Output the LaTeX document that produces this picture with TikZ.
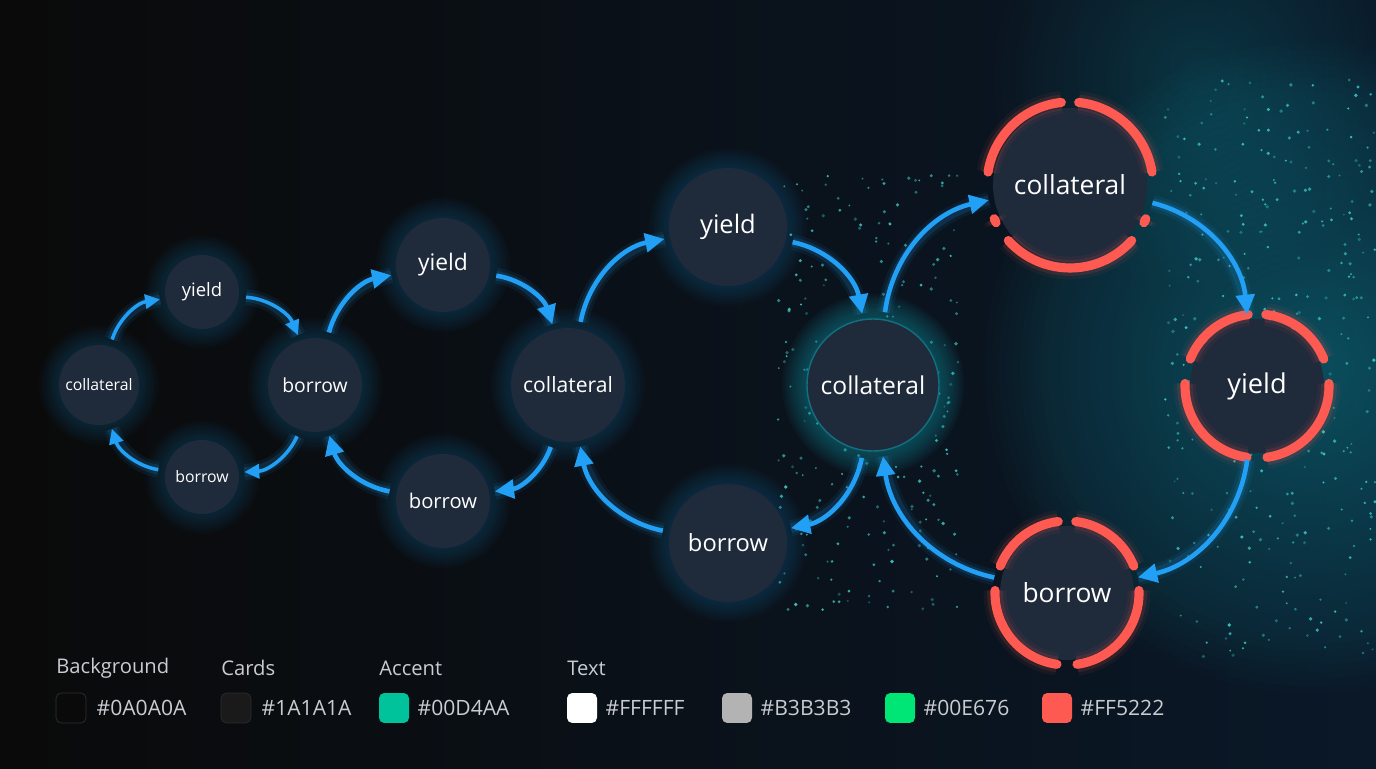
\documentclass[tikz,border=0pt]{standalone}
\usepackage{fontspec}
\setmainfont{Open Sans}
\usetikzlibrary{arrows.meta,positioning,backgrounds}

\definecolor{bgleft}{HTML}{0A0A0A}
\definecolor{bgright}{HTML}{0A1828}
\definecolor{cardfill}{HTML}{1F2A3B}
\definecolor{flowblue}{HTML}{22A0F5}
\definecolor{haze}{HTML}{0C8C9C}
\definecolor{spark}{HTML}{3CCFC8}
\definecolor{ringred}{HTML}{FF5A52}
\definecolor{legendtxt}{HTML}{C9CCD1}
\definecolor{swbg}{HTML}{0A0A0A}
\definecolor{swcard}{HTML}{1A1A1A}
\definecolor{swaccent}{HTML}{00D4AA}
\definecolor{swwhite}{HTML}{FFFFFF}
\definecolor{swgray}{HTML}{B3B3B3}
\definecolor{swgreen}{HTML}{00E676}
\definecolor{swred}{HTML}{FF5A52}

\tikzset{
  card/.style={circle, fill=cardfill, text=white, inner sep=0pt},
  flow/.style={draw=flowblue, line width=2.6pt, -{Triangle[length=11pt,width=10.5pt]},
    shorten <=4pt, shorten >=3pt,
    preaction={draw=flowblue, line width=9pt, opacity=.08, -},
    preaction={draw=flowblue, line width=5.5pt, opacity=.14, -}},
  flowsmall/.style={flow, line width=2pt, -{Triangle[length=8.5pt,width=8pt]}},
  ring/.style={draw=ringred, line width=5.2pt, line cap=round,
    preaction={draw=ringred, line width=13pt, opacity=.06},
    preaction={draw=ringred, line width=9pt, opacity=.12}},
  swatch/.style={rounded corners=3pt, minimum size=0.6cm, inner sep=0pt},
  legtitle/.style={anchor=west, inner sep=0pt, text=legendtxt, font=\fontsize{11.5}{14}\selectfont},
  leghex/.style={inner sep=0pt, text=legendtxt, font=\fontsize{12}{14}\selectfont}
}

\begin{document}
\begin{tikzpicture}[x=0.02cm, y=0.02cm]
\useasboundingbox (0,0) rectangle (1376,768);

% small loop
\node[card, minimum size=1.6cm, font=\fontsize{9}{11}\selectfont] (c1) at (99,383) {collateral};
\node[card, minimum size=1.48cm, font=\fontsize{10.5}{12}\selectfont] (y1) at (202,476) {yield};
\node[card, minimum size=1.48cm, font=\fontsize{9}{11}\selectfont] (s1) at (202,291) {borrow};
\node[card, minimum size=1.88cm, font=\fontsize{11}{13}\selectfont] (b1) at (315,383) {borrow};

% middle loop
\node[card, minimum size=1.88cm, font=\fontsize{13}{15}\selectfont] (y2) at (443,503) {yield};
\node[card, minimum size=1.88cm, font=\fontsize{11.5}{14}\selectfont] (b2) at (443,267) {borrow};
\node[card, minimum size=2.28cm, font=\fontsize{12}{14}\selectfont] (c2) at (568,383) {collateral};

% big loop
\node[card, minimum size=2.36cm, font=\fontsize{14.5}{17}\selectfont] (y3) at (728,541) {yield};
\node[card, minimum size=2.36cm, font=\fontsize{13.5}{16}\selectfont] (b3) at (728,225) {borrow};
\node[card, minimum size=2.64cm, font=\fontsize{14}{17}\selectfont, draw=haze!70!cardfill, line width=.8pt] (c3) at (873,383) {collateral};

% red loop
\node[card, minimum size=3.08cm, font=\fontsize{15}{18}\selectfont] (c4) at (1070,583) {collateral};
\node[card, minimum size=2.68cm, font=\fontsize{15.5}{18}\selectfont] (y4) at (1257,382) {yield};
\node[card, minimum size=2.68cm, font=\fontsize{15}{18}\selectfont] (b4) at (1067,175) {borrow};

\foreach \a/\b in {96/171,204/207,222/318,333/336,9/84}
  \draw[ring] ([shift={(\a:83)}]c4.center) arc[start angle=\a, end angle=\b, radius=83];
\foreach \n in {y4,b4}
  \foreach \a/\b in {97/158,178/262,278/362,22/83}
    \draw[ring] ([shift={(\a:72)}]\n.center) arc[start angle=\a, end angle=\b, radius=72];

% arrows
\draw[flowsmall] (c1) to[bend left=32] (y1);
\draw[flowsmall] (y1) to[bend left=32] (b1);
\draw[flowsmall] (b1) to[bend left=32] (s1);
\draw[flowsmall] (s1) to[bend left=32] (c1);

\draw[flow] (b1) to[bend left=32] (y2);
\draw[flow] (y2) to[bend left=32] (c2);
\draw[flow] (c2) to[bend left=32] (b2);
\draw[flow] (b2) to[bend left=32] (b1);

\draw[flow] (c2) to[bend left=34] (y3);
\draw[flow] (y3) to[bend left=34] (c3);
\draw[flow] (c3) to[bend left=34] (b3);
\draw[flow] (b3) to[bend left=34] (c2);

\draw[flow] (c3) to[bend left=35] (c4);
\draw[flow] (c4) to[bend left=35] (y4);
\draw[flow] (y4) to[bend left=35] (b4);
\draw[flow] (b4) to[bend left=35] (c3);

% legend
\node[legtitle] (tbg) at (56,100) {Background};
\node[legtitle] (tcard) at (221,100) {Cards};
\node[legtitle] (tacc) at (379,100) {Accent};
\node[legtitle] (ttxt) at (567,100) {Text};

\node[swatch, fill=swbg, draw=white!15!swbg] (sbg) at (71,60) {};
\node[swatch, fill=swcard, draw=white!8!swcard] (scard) at (236,60) {};
\node[swatch, fill=swaccent!92!black] (sacc) at (394,60) {};
\node[swatch, fill=swwhite] (swhite) at (582,60) {};
\node[swatch, fill=swgray] (sgray) at (737,60) {};
\node[swatch, fill=swgreen] (sgreen) at (900,60) {};
\node[swatch, fill=swred] (sred) at (1057,60) {};

\node[leghex, right=0.2cm of sbg] (hbg) {\#0A0A0A};
\node[leghex, right=0.2cm of scard] (hcard) {\#1A1A1A};
\node[leghex, right=0.16cm of sacc] (hacc) {\#00D4AA};
\node[leghex, right=0.16cm of swhite] (hwhite) {\#FFFFFF};
\node[leghex, right=0.16cm of sgray] (hgray) {\#B3B3B3};
\node[leghex, right=0.16cm of sgreen] (hgreen) {\#00E676};
\node[leghex, right=0.16cm of sred] (hred) {\#FF5222};

\begin{scope}[on background layer]
  \shade[left color=bgleft, right color=bgright] (0,0) rectangle (1376,768);
  \foreach \k in {1,...,45}
    \fill[haze, opacity=.018] (1310,400) circle[radius=10+\k*7];
  \foreach \k in {1,...,28}
    \fill[haze, opacity=.014] (1200,690) circle[radius=10+\k*7];
  % sparks
  \pgfmathsetseed{17}
  \foreach \i in {1,...,260}{
    \pgfmathsetmacro\px{868+90*rand}
    \pgfmathsetmacro\py{378+220*rand}
    \pgfmathsetmacro\po{0.3+0.6*rnd}
    \pgfmathsetmacro\pr{1+0.9*rnd}
    \fill[spark, opacity=\po] (\px,\py) circle[radius=\pr];
  }
  \foreach \i in {1,...,320}{
    \pgfmathsetmacro\px{1270+105*rand}
    \pgfmathsetmacro\py{400+290*rand}
    \pgfmathsetmacro\po{0.3+0.6*rnd}
    \pgfmathsetmacro\pr{1+0.9*rnd}
    \fill[spark, opacity=\po] (\px,\py) circle[radius=\pr];
  }
  % glows
  \foreach \n/\r in {c1/40,y1/37,s1/37,b1/47,y2/47,b2/47,c2/57,y3/59,b3/59}
    \foreach \k in {1,...,8}
      \fill[flowblue, opacity=.025] (\n.center) circle[radius=\r+\k*2.5];
  \foreach \k in {1,...,10}
    \fill[haze, opacity=.06] (c3.center) circle[radius=66+\k*2.5];
\end{scope}
\end{tikzpicture}
\end{document}
